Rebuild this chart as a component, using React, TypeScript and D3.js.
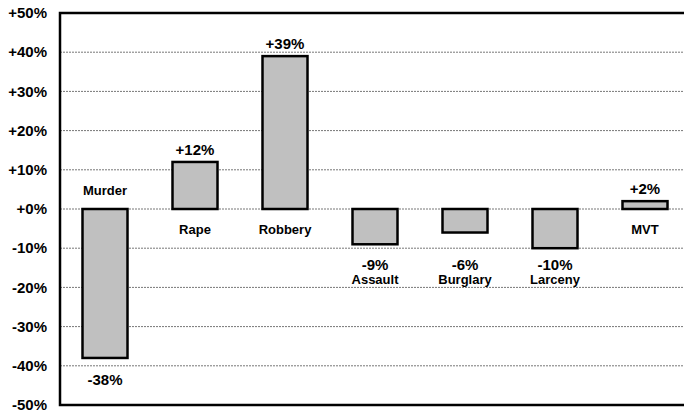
import React from "react";
import * as d3 from "d3";

const categories = ["Murder", "Rape", "Robbery", "Assault", "Burglary", "Larceny", "MVT"];
const changes = [-38, 12, 39, -9, -6, -10, 2];
const yTicks = [50, 40, 30, 20, 10, 0, -10, -20, -30, -40, -50];

const W = 684;
const H = 418;
const left = 60;
const right = 690;
const top = 13;
const bottom = 405;

const fmt = (v: number) => (v >= 0 ? "+" : "") + v + "%";

export default function App() {
  const x = d3.scaleBand<string>().domain(categories).range([left, right]).paddingInner(0.5).paddingOuter(0.25);
  const y = d3.scaleLinear().domain([-50, 50]).range([bottom, top]);
  const y0 = y(0);
  const font = "'Liberation Sans', Arial, sans-serif";

  return (
    <svg width={W} height={H} style={{ position: "absolute", left: 0, top: 0, display: "block" }}>
      <rect x={0} y={0} width={W} height={H} fill="#fff" />
      {yTicks
        .filter((t) => t !== 50 && t !== -50)
        .map((t) => (
          <line key={"g" + t} x1={left} x2={right} y1={y(t)} y2={y(t)} stroke="#777" strokeWidth={1} strokeDasharray="2,1" />
        ))}
      {yTicks.map((t) => (
        <text
          key={"t" + t}
          x={47}
          y={y(t)}
          dy="0.35em"
          textAnchor="end"
          fontFamily={font}
          fontWeight="bold"
          fontSize={15}
          fill="#000"
        >
          {fmt(t)}
        </text>
      ))}
      {categories.map((c, i) => {
        const v = changes[i];
        const bx = x(c)!;
        const bw = x.bandwidth();
        const cx = bx + bw / 2;
        const yv = y(v);
        const rectY = Math.min(yv, y0);
        const rectH = Math.abs(yv - y0);
        let valueY: number;
        let catY: number;
        if (v >= 0) {
          valueY = yv - 7;
          catY = y0 + 25;
        } else if (v <= -20) {
          valueY = yv + 27;
          catY = y0 - 14;
        } else {
          valueY = y0 + 61;
          catY = y0 + 75;
        }
        return (
          <g key={c}>
            <rect x={bx} y={rectY} width={bw} height={rectH} fill="#c0c0c0" stroke="#000" strokeWidth={2.5} />
            <text x={cx} y={valueY} textAnchor="middle" fontFamily={font} fontWeight="bold" fontSize={15} fill="#000">
              {fmt(v)}
            </text>
            <text x={cx} y={catY} textAnchor="middle" fontFamily={font} fontWeight="bold" fontSize={13} fill="#000">
              {c}
            </text>
          </g>
        );
      })}
      <rect x={left} y={top} width={right - left} height={bottom - top} fill="none" stroke="#000" strokeWidth={2.5} />
    </svg>
  );
}
